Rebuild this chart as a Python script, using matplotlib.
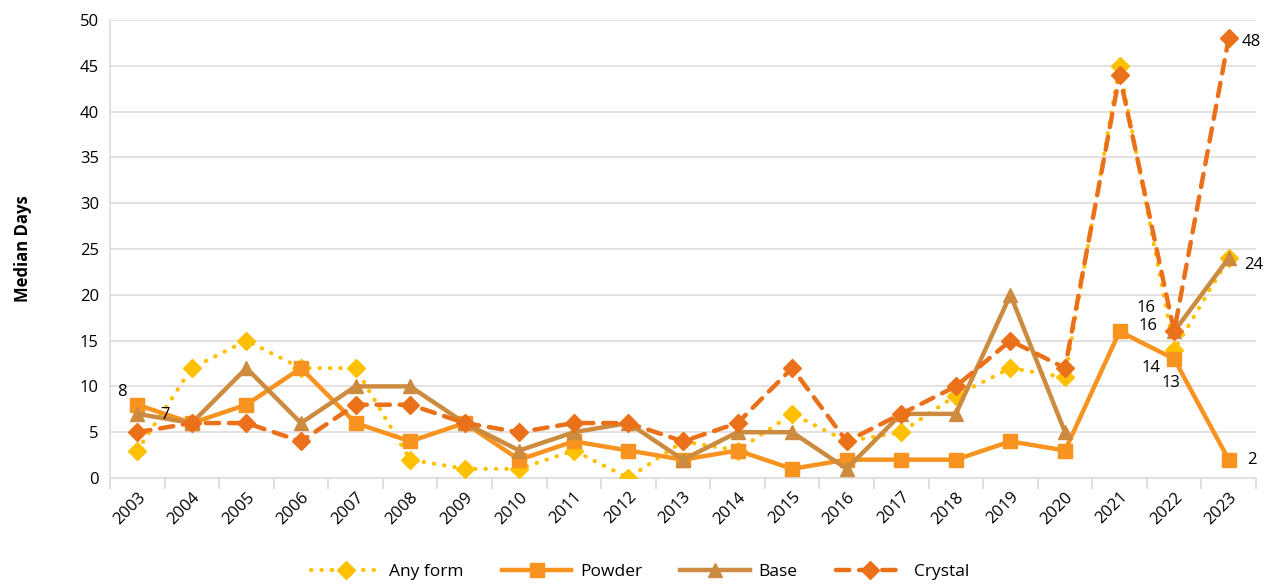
import numpy as np
import matplotlib
matplotlib.use("Agg")
import matplotlib.pyplot as plt

plt.rcParams['font.family'] = ['Open Sans', 'DejaVu Sans']

years = [str(y) for y in range(2003, 2024)]
any_form = [3, 12, 15, 12, 12, 2, 1, 1, 3, 0, 4, 3, 7, 4, 5, 9, 12, 11, 45, 14, 24]
powder = [8, 6, 8, 12, 6, 4, 6, 2, 4, 3, 2, 3, 1, 2, 2, 2, 4, 3, 16, 13, 2]
base = [7, 6, 12, 6, 10, 10, 6, 3, 5, 6, 2, 5, 5, 1, 7, 7, 20, 5, np.nan, 16, 24]
crystal = [5, 6, 6, 4, 8, 8, 6, 5, 6, 6, 4, 6, 12, 4, 7, 10, 15, 12, 44, 16, 48]

c_any = "#FFC000"
c_powder = "#F7931E"
c_base = "#CC8B3E"
c_crystal = "#EA7019"

x = np.arange(len(years))

fig = plt.figure(figsize=(12.77, 5.84), dpi=100)
ax = fig.add_axes([110/1277, 1 - 478/584, (1256 - 110)/1277, (478 - 20)/584])

ax.plot(x, any_form, color=c_any, lw=3, ls=(0, (0.1, 2.4)), dash_capstyle='round',
        marker='D', ms=9.5, label="Any form", zorder=3)
ax.plot(x, powder, color=c_powder, lw=3.2, marker='s', ms=10, label="Powder", zorder=4)
ax.plot(x, base, color=c_base, lw=3.2, marker='^', ms=10, label="Base", zorder=5)
ax.plot(x, crystal, color=c_crystal, lw=3.2, ls=(0, (3, 2.2)), dash_capstyle='round',
        marker='D', ms=9.5, label="Crystal", zorder=6)


def label(series, i, dx, dy):
    ax.annotate(str(series[i]), (x[i], series[i]), xytext=(dx, dy), textcoords='offset points',
                ha='center', va='center', fontsize=12, color="black", zorder=8)


# value labels on first and last points
label(powder, 0, -11, 9)
label(base, 0, 20, -1)
label(crystal, 19, -20, 17)
label(base, 19, -19, 4)
label(any_form, 19, -17, -13)
label(powder, 19, -2, -17)
label(base, 20, 18, -5)
label(powder, 20, 17, 0)
label(crystal, 20, 16, -3)

ax.set_xlim(-0.5, len(years) - 0.5)
ax.set_ylim(0, 50)
ax.set_yticks(range(0, 51, 5))
ax.set_xticks(x)
ax.set_xticklabels(years, rotation=45, ha='right', rotation_mode='anchor', fontsize=12)
ax.tick_params(axis='y', labelsize=12, length=0, pad=8)
ax.tick_params(axis='x', length=0, pad=8)
ax.set_xticks(np.arange(-0.5, len(years), 1), minor=True)
ax.tick_params(axis='x', which='minor', length=8, color="#D9D9D9", width=1.2)

ax.grid(axis='y', color="#E0DCDC", lw=1.2)
ax.set_axisbelow(True)
for s in ['top', 'right']:
    ax.spines[s].set_visible(False)
ax.spines['left'].set_color("#E0DCDC")
ax.spines['bottom'].set_color("#E0DCDC")
ax.spines['left'].set_linewidth(1.2)
ax.spines['bottom'].set_linewidth(1.2)

ax.set_ylabel("Median Days", fontsize=12, fontweight='bold', labelpad=34)

fig.legend(loc='center', bbox_to_anchor=(640/1277, 1 - 572/584), ncol=4, frameon=False,
           fontsize=12.5, handlelength=4, columnspacing=2.2, handletextpad=0.5)

fig.savefig("out.png", dpi=100)
